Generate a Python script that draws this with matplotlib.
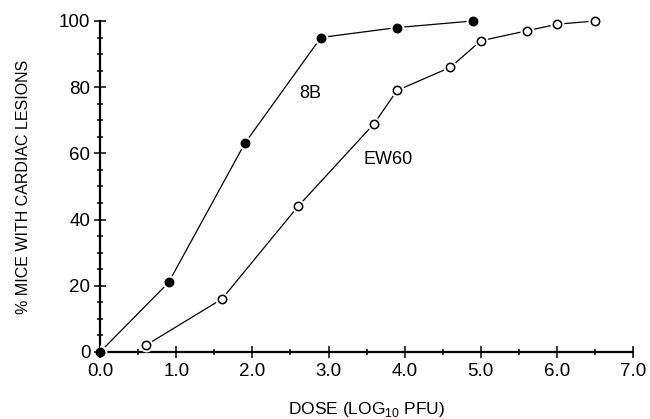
import matplotlib
matplotlib.use('Agg')
import matplotlib.pyplot as plt
from matplotlib.ticker import MultipleLocator

plt.rcParams['font.family'] = ['Liberation Sans', 'DejaVu Sans']

# Data
dose_8b = [0.0, 0.9, 1.9, 2.9, 3.9, 4.9]
pct_8b = [0, 21, 63, 95, 98, 100]
dose_ew60 = [0.6, 1.6, 2.6, 3.6, 3.9, 4.6, 5.0, 5.6, 6.0, 6.5]
pct_ew60 = [2, 16, 44, 69, 79, 86, 94, 97, 99, 100]

fig = plt.figure(figsize=(6.5, 4.19), dpi=100)
ax = fig.add_axes([0.154, 0.16, 0.82, 0.79])

for x, y, face in [(dose_8b, pct_8b, 'black'), (dose_ew60, pct_ew60, 'white')]:
    ax.plot(x, y, color='black', lw=0.9, zorder=2)
    # white halo so the line stops short of each marker
    ax.plot(x, y, 'o', ms=9, mfc='white', mec='white', ls='none', zorder=3)
    ax.plot(x, y, 'o', ms=6, mfc=face, mec='black', mew=1.1, ls='none',
            zorder=4, clip_on=False)

ax.text(2.76, 78, '8B', fontsize=13, ha='center', va='center')
ax.text(3.78, 58, 'EW60', fontsize=13, ha='center', va='center')

ax.set_xlim(0, 7)
ax.set_ylim(0, 100)
ax.xaxis.set_major_locator(MultipleLocator(1))
ax.xaxis.set_minor_locator(MultipleLocator(0.5))
ax.yaxis.set_major_locator(MultipleLocator(20))
ax.yaxis.set_minor_locator(MultipleLocator(5))
ax.set_xticklabels([f'{v:.1f}' for v in ax.get_xticks()])

for side in ['top', 'right']:
    ax.spines[side].set_visible(False)
for side in ['left', 'bottom']:
    ax.spines[side].set_linewidth(1.6)

ax.tick_params(which='major', direction='inout', length=8, width=1.1,
               labelsize=13.5)
ax.tick_params(axis='x', which='major', pad=4)
ax.tick_params(axis='y', which='major', pad=3)
ax.tick_params(which='minor', direction='inout', length=5, width=1.1)

ax.set_ylabel('% MICE WITH CARDIAC LESIONS', fontsize=11.5, labelpad=20)
ax.set_xlabel('DOSE (LOG$_{\\mathregular{10}}$ PFU)', fontsize=12.5, labelpad=14)

fig.savefig('out.png', dpi=100)
